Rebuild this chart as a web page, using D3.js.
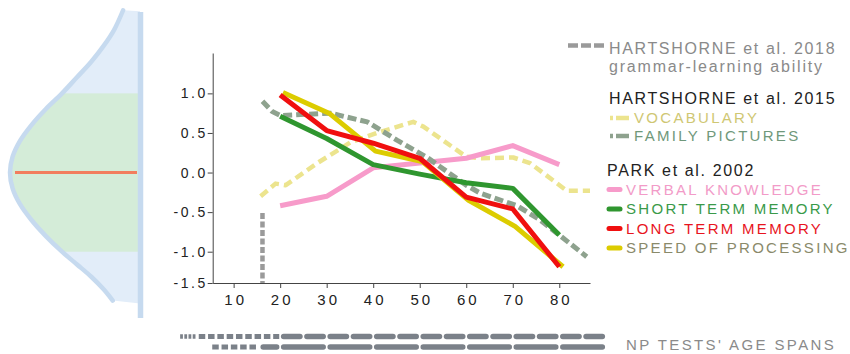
<!DOCTYPE html>
<html>
<head>
<meta charset="utf-8">
<script src="https://cdn.jsdelivr.net/npm/d3@7"></script>
<style>
  html, body { margin: 0; padding: 0; background: #fff; }
  svg { display: block; font-family: "Liberation Sans", Arial, Helvetica, sans-serif; }
</style>
</head>
<body>
<svg id="chart" width="850" height="354"></svg>
<script>
// ---------------- DATA ----------------
const xTicks = [10, 20, 30, 40, 50, 60, 70, 80];
const yTicks = [-1.5, -1.0, -0.5, 0.0, 0.5, 1.0];

const parkAges = [20, 30, 40, 50, 60, 70, 80];
const verbalKnowledge = [-0.42, -0.30, 0.06, 0.12, 0.18, 0.34, 0.10];
const shortTermMemory = [0.71, 0.43, 0.10, -0.02, -0.13, -0.20, -0.79];
const longTermMemory  = [0.98, 0.53, 0.37, 0.18, -0.31, -0.46, -1.24];
const speedAges = [20.6, 30.5, 40.5, 50.5, 60.5, 70.5, 80.8];
const speedOfProcessing = [1.01, 0.75, 0.27, 0.14, -0.35, -0.68, -1.24];

const vocabAges   = [15.8, 19, 21.2, 28, 35.1, 40.8, 48.6, 50.8, 60, 63, 70.1, 73.7, 81.6, 86.6];
const vocabValues = [-0.30, -0.14, -0.16, 0.12, 0.38, 0.50, 0.64, 0.58, 0.20, 0.18, 0.19, 0.12, -0.23, -0.23];

const familyAges   = [16.2, 18.3, 20.1, 30.8, 38.7, 45.1, 51.6, 60, 63, 70.9, 75.9, 85.9];
const familyValues = [0.90, 0.77, 0.72, 0.75, 0.64, 0.41, 0.19, -0.16, -0.26, -0.42, -0.60, -1.08];

const grammarAges   = [16.2, 16.2];
const grammarValues = [-0.51, -1.5];

// bell curve illustration: value (SD units) and relative depth
const bellV     = [2.05, 1.8, 1.6, 1.4, 1.2, 1.0, 0.8, 0.6, 0.4, 0.2, 0.0, -0.2, -0.4, -0.6, -0.8, -1.0, -1.2, -1.4, -1.6, -1.78];
const bellDepth = [0.13, 0.2, 0.28, 0.375, 0.487, 0.6, 0.726, 0.835, 0.923, 0.98, 1.0, 0.98, 0.923, 0.835, 0.726, 0.6, 0.487, 0.375, 0.28, 0.21];

// NP tests' age spans [start, end] in years
const spansRow1Thin = [[-1.5, -0.9], [-0.6, 0.0], [0.3, 0.9], [1.2, 1.8]];
const spansRow1Sq = [[2.5, 3.9], [4.5, 5.9], [6.5, 7.9], [8.5, 9.9], [10.5, 11.9], [12.5, 13.9], [14.5, 15.9], [16.5, 17.9], [18.5, 19.8]];
const spansRow1Long = [[20, 25], [25, 30], [30, 35], [35, 40], [40, 45], [45, 50], [50, 55], [55, 60], [60, 65], [65, 70], [70, 75], [75, 80], [80, 85], [85, 90]];
const spansRow2Sq = [[5.4, 6.8], [7.4, 8.8], [9.4, 10.8], [11.4, 12.8], [13.4, 14.8]];
const spansRow2Long = [[15.6, 20], [20, 30], [30, 40], [40, 50], [50, 60], [60, 70], [70, 80], [80, 90]];

// ---------------- DRAW ----------------
const svg = d3.select("#chart");

const x = d3.scaleLinear().domain([5.5, 86.6]).range([212.7, 590]);
const y = d3.scaleLinear().domain([-1.5, -1, 1.51]).range([283, 251.7, 53]);

// ---- left bell ----
const bx = d3.scaleLinear().domain([0, 1]).range([140, 10]);
const bellPts = bellV.map((v, i) => [bx(bellDepth[i]), y(v)]);
const bellLine = d3.line().curve(d3.curveCatmullRom.alpha(0.5));
const bellTopY = bellPts[0][1], bellBotY = bellPts[bellPts.length - 1][1];
const shapePath = bellLine(bellPts) + `L140,${bellBotY + 3}L140,${bellTopY + 1}Z`;

const defs = svg.append("defs");
defs.append("clipPath").attr("id", "bellclip").append("path").attr("d", shapePath);

svg.append("path").attr("d", shapePath).attr("fill", "#e2edf9");
svg.append("rect")
  .attr("clip-path", "url(#bellclip)")
  .attr("x", 0).attr("y", y(1.0)).attr("width", 138).attr("height", y(-1.0) - y(1.0))
  .attr("fill", "#d4ecd8");
svg.append("path").attr("d", bellLine(bellPts))
  .attr("fill", "none").attr("stroke", "#c6daef").attr("stroke-width", 4.5).attr("stroke-linecap", "round");
svg.append("line").attr("x1", 140.5).attr("x2", 140.5).attr("y1", 12).attr("y2", 318)
  .attr("stroke", "#c6daef").attr("stroke-width", 5.5);
svg.append("line").attr("x1", 15).attr("x2", 137).attr("y1", y(0)).attr("y2", y(0))
  .attr("stroke", "#f27d5e").attr("stroke-width", 3);

// ---- axes ----
const fmt = d => d3.format(".1f")(d).replace("\u2212", "-");
const gy = svg.append("g").attr("transform", "translate(212.7,0)")
  .call(d3.axisLeft(y).tickValues(yTicks).tickFormat(fmt).tickSize(5).tickSizeOuter(0));
gy.selectAll("text").attr("font-size", 14).attr("letter-spacing", 2.5).attr("fill", "#222")
  .attr("x", -5).attr("font-family", "Liberation Sans, Arial, sans-serif");
gy.select(".domain").attr("stroke", "#444");
gy.selectAll(".tick line").attr("stroke", "#444");

const gx = svg.append("g").attr("transform", "translate(0,283)")
  .call(d3.axisBottom(x).tickValues(xTicks).tickFormat(d3.format("d")).tickSize(5).tickSizeOuter(0));
gx.selectAll("text").attr("font-size", 15).attr("letter-spacing", 3).attr("fill", "#222")
  .attr("dy", "0.95em").attr("dx", "1.5").attr("font-family", "Liberation Sans, Arial, sans-serif");
gx.select(".domain").attr("stroke", "#444");
gx.selectAll(".tick line").attr("stroke", "#444");

// ---- lines ----
const line = d3.line().x(d => x(d[0])).y(d => y(d[1]));
const zip = (a, b) => a.map((v, i) => [v, b[i]]);

function drawSeries(ages, vals, color, width, dash, cap) {
  svg.append("path").datum(zip(ages, vals))
    .attr("d", line)
    .attr("fill", "none")
    .attr("stroke", color)
    .attr("stroke-width", width)
    .attr("stroke-linejoin", "round")
    .attr("stroke-linecap", cap || "butt")
    .attr("stroke-dasharray", dash || null);
}

drawSeries(vocabAges, vocabValues, "#ece48e", 4.5, "9,5");
drawSeries(parkAges, verbalKnowledge, "#f79bca", 5);
drawSeries(familyAges, familyValues, "#8ea28e", 5, "9,4");
drawSeries(grammarAges, grammarValues, "#9a9a9a", 4.5, "6,2.5");
drawSeries(parkAges, shortTermMemory, "#2f962f", 5);
drawSeries(speedAges, speedOfProcessing, "#dccc00", 5);
drawSeries(parkAges, longTermMemory, "#f00f0f", 5);

// ---- legend ----
const lg = svg.append("g");
function txt(xp, yp, s, color, size, ls) {
  lg.append("text").attr("x", xp).attr("y", yp).text(s)
    .attr("fill", color).attr("font-size", size).attr("letter-spacing", ls);
}
function mark(x1, x2, yp, color, w, dash, cap) {
  lg.append("line").attr("x1", x1).attr("x2", x2).attr("y1", yp).attr("y2", yp)
    .attr("stroke", color).attr("stroke-width", w)
    .attr("stroke-dasharray", dash || null).attr("stroke-linecap", cap || "butt");
}
// 2018
mark(568, 605, 45.5, "#9a9a9a", 4.5, "10,3");
txt(609, 54, "HARTSHORNE et al. 2018", "#8a8a8a", 16, 1.65);
txt(609, 72, "grammar-learning ability", "#8a8a8a", 16, 1.8);
// 2015
txt(609, 104, "HARTSHORNE et al. 2015", "#222", 16, 1.65);
mark(610, 629, 118, "#ece48e", 4.5, "3,3,13");
txt(634, 123, "VOCABULARY", "#cfc773", 15, 2.3);
mark(610, 629, 136, "#8ea28e", 4.5, "3,3,13");
txt(634, 141, "FAMILY PICTURES", "#6f987a", 15, 2.3);
// Park
txt(607, 176, "PARK et al. 2002", "#222", 16, 1.65);
mark(609, 620, 189.5, "#f79bca", 5, null, "round");
txt(626, 194.5, "VERBAL KNOWLEDGE", "#f29bc8", 15, 2.3);
mark(609, 620, 209, "#2f962f", 5, null, "round");
txt(626, 214, "SHORT TERM MEMORY", "#3a9a4a", 15, 2.3);
mark(609, 620, 228.5, "#f00f0f", 5, null, "round");
txt(626, 233.5, "LONG TERM MEMORY", "#e8141e", 15, 2.3);
mark(609, 620, 248, "#dccc00", 5, null, "round");
txt(626, 253, "SPEED OF PROCESSING", "#8a8a6a", 15, 2.3);

// ---- NP tests' age spans ----
const spanColor = "#7b8189";
function spans(list, yp, w, inset, cap) {
  svg.append("g").selectAll("line").data(list).join("line")
    .attr("x1", d => x(d[0]) + inset).attr("x2", d => x(d[1]) - inset)
    .attr("y1", yp).attr("y2", yp)
    .attr("stroke", spanColor).attr("stroke-width", w).attr("stroke-linecap", cap);
}
spans(spansRow1Thin, 336.5, 4.5, 0, "butt");
spans(spansRow1Sq, 336.5, 5, 0, "butt");
spans(spansRow1Long, 336.5, 5.5, 3.5, "round");
spans(spansRow2Sq, 347, 5, 0, "butt");
spans(spansRow2Long, 347, 5.5, 3.5, "round");
svg.append("text").attr("x", 626).attr("y", 350).text("NP TESTS' AGE SPANS")
  .attr("fill", "#8a8a8a").attr("font-size", 15).attr("letter-spacing", 2.4);
</script>
</body>
</html>
